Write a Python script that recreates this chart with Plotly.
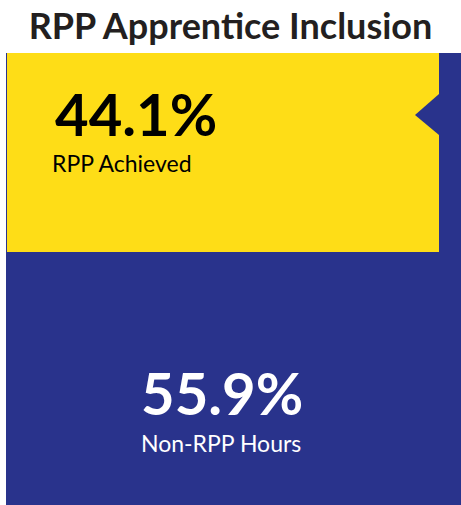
import plotly.graph_objects as go

# Data
categories = ["RPP Achieved", "Non-RPP Hours"]
values = [44.1, 55.9]
value_labels = ["44.1%", "55.9%"]
title_text = "RPP Apprentice Inclusion"

YELLOW = "#FEDD17"
BLUE = "#29338C"
FONT = "Lato"

W, H = 461, 505
TOP = 53

fig = go.Figure()
total = sum(values)
# Blue background bar (full height)
fig.add_trace(go.Bar(x=[6], y=[total], base=[0], width=[455], offset=0,
                     marker=dict(color=BLUE, line=dict(width=0)),
                     hoverinfo="skip", showlegend=False))
# Yellow bar on top: from non-RPP value to total
fig.add_trace(go.Bar(x=[7], y=[values[0]], base=[values[1]], width=[432], offset=0,
                     marker=dict(color=YELLOW, line=dict(width=0)),
                     hoverinfo="skip", showlegend=False))

def ypx(p):
    return (H - p) / (H - TOP) * total

# notch triangle
fig.add_shape(type="path",
              path=f"M 439 {ypx(94)} L 415 {ypx(115)} L 439 {ypx(135)} Z",
              xref="x", yref="y", fillcolor=BLUE, line=dict(width=0))

fig.add_annotation(x=53, y=ypx(113), xref="x", yref="y", text=f"<b>{value_labels[0]}</b>",
                   showarrow=False, xanchor="left", yanchor="middle",
                   font=dict(family=FONT, size=58, color="#000000"))
fig.add_annotation(x=50, y=ypx(163), xref="x", yref="y", text=categories[0],
                   showarrow=False, xanchor="left", yanchor="middle",
                   font=dict(family=FONT, size=23, color="#000000"))
fig.add_annotation(x=222, y=ypx(392), xref="x", yref="y", text=f"<b>{value_labels[1]}</b>",
                   showarrow=False, xanchor="center", yanchor="middle",
                   font=dict(family=FONT, size=58, color="#FFFFFF"))
fig.add_annotation(x=221, y=ypx(443), xref="x", yref="y", text=categories[1],
                   showarrow=False, xanchor="center", yanchor="middle",
                   font=dict(family=FONT, size=23, color="#FFFFFF"))

fig.update_layout(
    width=W, height=H,
    margin=dict(l=0, r=0, t=TOP, b=0),
    paper_bgcolor="white", plot_bgcolor="white",
    barmode="overlay", bargap=0,
    title=dict(text=f"<b>{title_text}</b>", x=0.5, xanchor="center",
               y=1 - 26 / H, yanchor="middle",
               font=dict(family=FONT, size=36, color="#231F20")),
    xaxis=dict(range=[0, W], visible=False, fixedrange=True),
    yaxis=dict(range=[0, total], visible=False, fixedrange=True),
)

fig.write_html("out.html", config={"displayModeBar": False},
               post_script="document.body.style.margin='0';document.body.style.overflow='hidden';")
